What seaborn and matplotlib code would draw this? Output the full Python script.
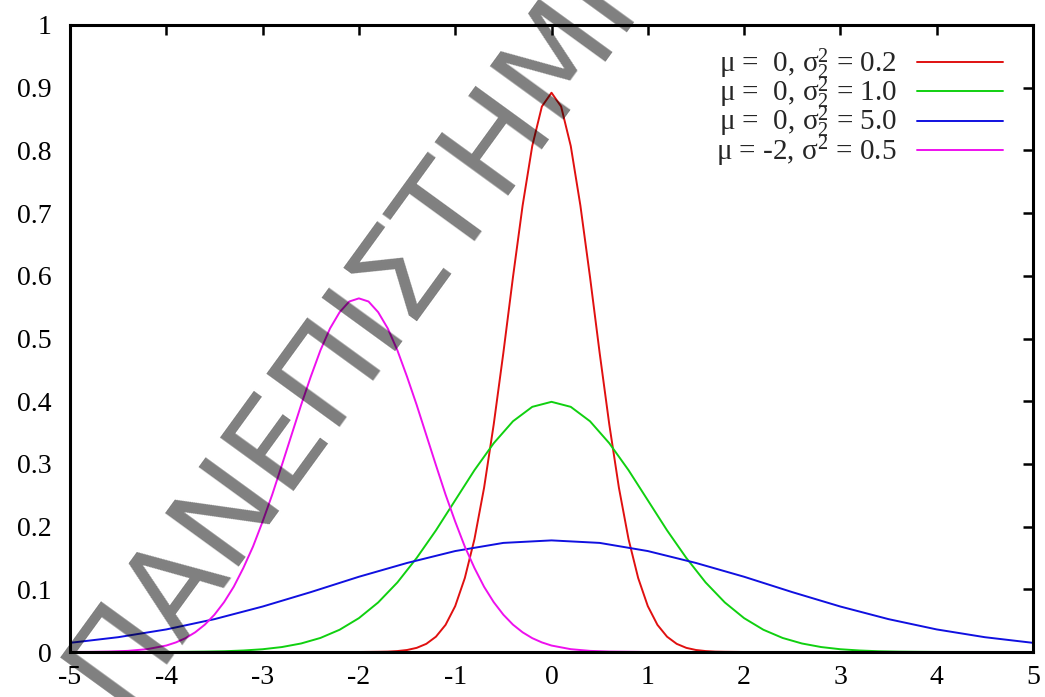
import numpy as np
import pandas as pd
import matplotlib
matplotlib.use('Agg')
import matplotlib.pyplot as plt
import seaborn as sns

# curves (gnuplot samples about every 0.1 on x)
red_x = [-5.0, -2.0, -1.8, -1.7, -1.6, -1.5, -1.4, -1.3, -1.2, -1.1, -1.0, -0.9, -0.8, -0.7,
         -0.6, -0.5, -0.4, -0.3, -0.2, -0.1, 0.0, 0.1, 0.2, 0.3, 0.4, 0.5, 0.6, 0.7, 0.8,
         0.9, 1.0, 1.1, 1.2, 1.3, 1.4, 1.5, 1.6, 1.7, 1.8, 2.0, 5.0]
red_y = [0.0, 0.0, 0.0003, 0.0006, 0.0015, 0.0032, 0.0066, 0.0130, 0.0244, 0.0433, 0.0732, 0.118,
         0.180, 0.262, 0.363, 0.477, 0.598, 0.712, 0.807, 0.870, 0.892, 0.870, 0.807, 0.712,
         0.598, 0.477, 0.363, 0.262, 0.180, 0.118, 0.0732, 0.0433, 0.0244, 0.0130, 0.0066,
         0.0032, 0.0015, 0.0006, 0.0003, 0.0, 0.0]

green_x = [-5.0, -4.0, -3.8, -3.6, -3.4, -3.2, -3.0, -2.8, -2.6, -2.4, -2.2, -2.0, -1.8, -1.6,
           -1.4, -1.2, -1.0, -0.8, -0.6, -0.4, -0.2, 0.0, 0.2, 0.4, 0.6, 0.8, 1.0, 1.2, 1.4,
           1.6, 1.8, 2.0, 2.2, 2.4, 2.6, 2.8, 3.0, 3.2, 3.4, 3.6, 3.8, 4.0, 5.0]
green_y = [0.0, 0.0001, 0.0003, 0.0006, 0.0012, 0.0024, 0.0044, 0.0079, 0.0136, 0.0224, 0.0355,
           0.054, 0.079, 0.111, 0.150, 0.194, 0.242, 0.290, 0.333, 0.368, 0.391, 0.399, 0.391,
           0.368, 0.333, 0.290, 0.242, 0.194, 0.150, 0.111, 0.079, 0.054, 0.0355, 0.0224,
           0.0136, 0.0079, 0.0044, 0.0024, 0.0012, 0.0006, 0.0003, 0.0001, 0.0]

blue_x = [-5.0, -4.5, -4.0, -3.5, -3.0, -2.5, -2.0, -1.5, -1.0, -0.5, 0.0,
          0.5, 1.0, 1.5, 2.0, 2.5, 3.0, 3.5, 4.0, 4.5, 5.0]
blue_y = [0.0146, 0.0236, 0.0360, 0.0524, 0.0725, 0.0955, 0.120, 0.142, 0.161, 0.174, 0.178,
          0.174, 0.161, 0.142, 0.120, 0.0955, 0.0725, 0.0524, 0.0360, 0.0236, 0.0146]

magenta_x = [-5.0, -4.8, -4.6, -4.4, -4.2, -4.0, -3.9, -3.8, -3.7, -3.6, -3.5, -3.4, -3.3, -3.2,
             -3.1, -3.0, -2.9, -2.8, -2.7, -2.6, -2.5, -2.4, -2.3, -2.2, -2.1, -2.0, -1.9, -1.8,
             -1.7, -1.6, -1.5, -1.4, -1.3, -1.2, -1.1, -1.0, -0.9, -0.8, -0.7, -0.6, -0.5, -0.4,
             -0.3, -0.2, -0.1, 0.0, 0.2, 0.4, 0.6, 1.0, 5.0]
magenta_y = [0.0001, 0.0002, 0.0007, 0.0018, 0.0045, 0.0103, 0.0153, 0.0221, 0.0314, 0.0436,
             0.0595, 0.0795, 0.104, 0.134, 0.168, 0.208, 0.251, 0.298, 0.346, 0.394, 0.439,
             0.481, 0.516, 0.542, 0.559, 0.564, 0.559, 0.542, 0.516, 0.481, 0.439, 0.394, 0.346,
             0.298, 0.251, 0.208, 0.168, 0.134, 0.104, 0.0795, 0.0595, 0.0436, 0.0314, 0.0221,
             0.0153, 0.0103, 0.0045, 0.0018, 0.0007, 0.0, 0.0]

labels = ['μ =  0, σ${}_2^2$ = 0.2',
          'μ =  0, σ${}_2^2$ = 1.0',
          'μ =  0, σ${}_2^2$ = 5.0',
          'μ = -2, σ${}^2$ = 0.5']
line_colors = ['#e01010', '#10d010', '#1010e0', '#ee10ee']

x_ticks = [-5, -4, -3, -2, -1, 0, 1, 2, 3, 4, 5]
y_ticks = [0, 0.1, 0.2, 0.3, 0.4, 0.5, 0.6, 0.7, 0.8, 0.9, 1.0]
y_tick_labels = ['0', '0.1', '0.2', '0.3', '0.4', '0.5', '0.6', '0.7', '0.8', '0.9', '1']

watermark = 'ΠΑΝΕΠΙΣΤΗΜΙΟ'

sns.set_theme(style='white')
plt.rcParams['font.family'] = ['Liberation Serif', 'DejaVu Serif']
plt.rcParams['mathtext.default'] = 'regular'
plt.rcParams['axes.unicode_minus'] = False

fig = plt.figure(figsize=(10.45, 6.97), dpi=100)
ax = fig.add_axes([70 / 1045, 45 / 697, 963 / 1045, 627 / 697])

series = [(red_x, red_y), (green_x, green_y), (blue_x, blue_y), (magenta_x, magenta_y)]
for (xs, ys), c, lab in zip(series, line_colors, labels):
    sns.lineplot(x=xs, y=ys, color=c, linewidth=1.4, label=lab, ax=ax,
                 sort=False, estimator=None)

ax.set_xlim(-5, 5)
ax.set_ylim(0, 1)
ax.set_xticks(x_ticks)
ax.set_yticks(y_ticks)
ax.set_yticklabels(y_tick_labels)
ax.set_xlabel('')
ax.set_ylabel('')
ax.tick_params(direction='in', length=7, width=1.8, top=True, right=True,
               labelsize=20, colors='black')
ax.tick_params(axis='x', pad=9)
ax.tick_params(axis='y', pad=13)
for sp in ax.spines.values():
    sp.set_linewidth(2.2)
    sp.set_color('black')

ax.legend(loc='upper right', bbox_to_anchor=(0.969, 0.966), frameon=False,
          markerfirst=False, handlelength=2.95, handletextpad=0.7, fontsize=21,
          labelspacing=-0.22, borderaxespad=0, borderpad=0)

fig.text(122 / 1045, 1 - 711 / 697, watermark, fontsize=90, family='DejaVu Sans',
         rotation=54, rotation_mode='anchor', ha='left', va='baseline',
         color='black', alpha=0.5, zorder=10)

fig.savefig('out.png', dpi=100)
